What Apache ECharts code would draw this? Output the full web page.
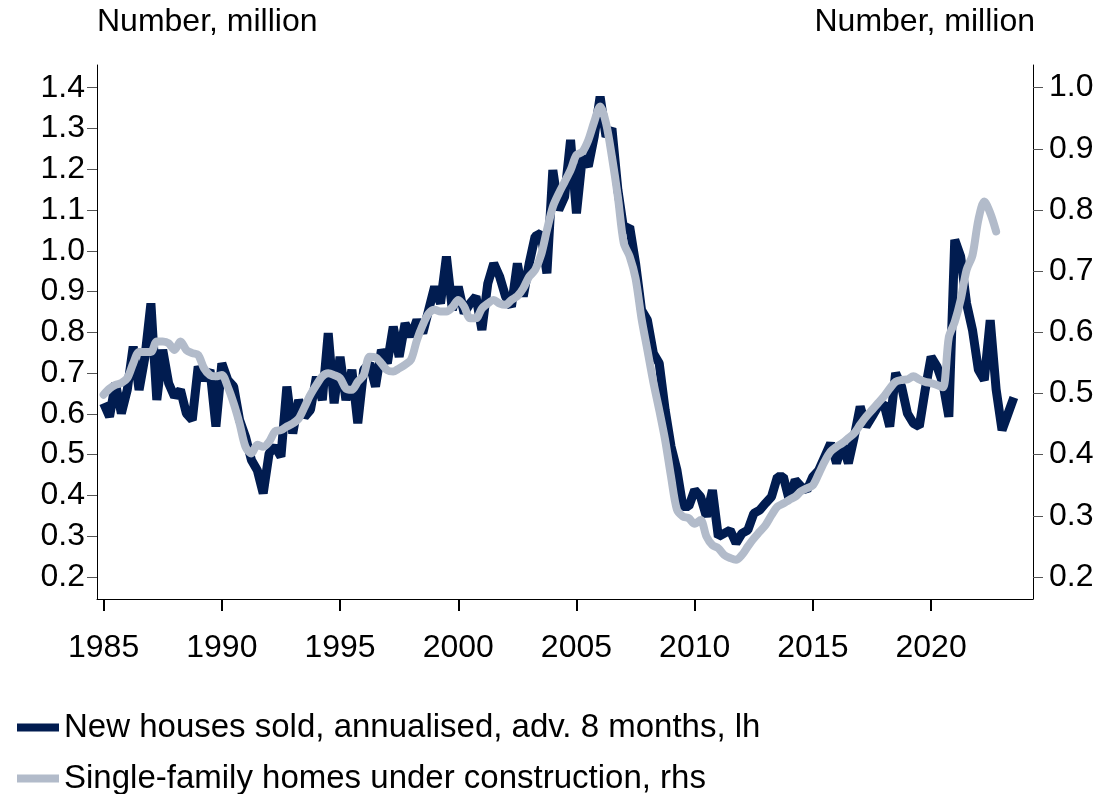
<!DOCTYPE html>
<html>
<head>
<meta charset="utf-8">
<script src="https://cdn.jsdelivr.net/npm/echarts@6/dist/echarts.min.js"></script>
<style>
  html, body { margin: 0; padding: 0; background: #ffffff; }
  #chart { width: 1119px; height: 794px; }
</style>
</head>
<body>
<div id="chart"></div>
<script>
// quarterly readings, first point = 1985 Q1
const salesStart = 1985
const constructionStart = 1985
const step = 0.25

// new houses sold, annualised, adv. 8 months (left axis, million)
const salesValues = [
  0.626, 0.593, 0.675, 0.601, 0.659, 0.765, 0.659, 0.740, 0.871, 0.634, 0.757, 0.675,
  0.642, 0.659, 0.601, 0.585, 0.716, 0.683, 0.708, 0.569, 0.724, 0.683, 0.667, 0.585,
  0.544, 0.487, 0.462, 0.405, 0.503, 0.520, 0.495, 0.667, 0.552, 0.634, 0.593, 0.610,
  0.691, 0.634, 0.798, 0.626, 0.740, 0.634, 0.708, 0.577,
  0.708, 0.724, 0.667, 0.757, 0.724, 0.814, 0.740, 0.822, 0.790, 0.830, 0.798, 0.855,
  0.912, 0.871, 0.986, 0.855, 0.912, 0.847, 0.871, 0.888, 0.806, 0.920, 0.969, 0.937,
  0.888, 0.863, 0.969, 0.888, 0.969, 1.035, 1.043, 0.945, 1.198, 1.100, 1.133, 1.272,
  1.092, 1.231, 1.207, 1.280, 1.378, 1.280, 1.300, 1.150,
  1.051, 1.059, 0.969, 0.855, 0.830, 0.749, 0.724, 0.610, 0.520, 0.462, 0.373, 0.373,
  0.413, 0.397, 0.348, 0.413, 0.299, 0.307, 0.315, 0.283, 0.307, 0.315, 0.356, 0.364,
  0.381, 0.397, 0.446, 0.446, 0.389, 0.438, 0.422, 0.413, 0.446, 0.462, 0.495, 0.528,
  0.479, 0.528, 0.479, 0.544, 0.618, 0.569, 0.593, 0.618,
  0.626, 0.569, 0.700, 0.667, 0.601, 0.577, 0.569, 0.659, 0.740, 0.716, 0.675, 0.593,
  1.027, 0.986, 0.871, 0.806, 0.708, 0.683, 0.830, 0.660, 0.560, 0.600, 0.640,
]

// single-family homes under construction (right axis, million)
const constructionValues = [
  0.498, 0.508, 0.514, 0.517, 0.525, 0.549, 0.568, 0.568, 0.568, 0.585, 0.585, 0.582,
  0.571, 0.585, 0.571, 0.566, 0.563, 0.541, 0.530, 0.528, 0.530, 0.511, 0.484, 0.451,
  0.413, 0.402, 0.416, 0.413, 0.421, 0.438, 0.440, 0.446, 0.451, 0.459, 0.478, 0.498,
  0.514, 0.528, 0.533, 0.530, 0.525, 0.508, 0.506, 0.519,
  0.530, 0.560, 0.559, 0.549, 0.538, 0.536, 0.541, 0.547, 0.555, 0.587, 0.612, 0.631,
  0.637, 0.634, 0.634, 0.641, 0.653, 0.642, 0.623, 0.623, 0.639, 0.647, 0.653, 0.647,
  0.645, 0.653, 0.659, 0.672, 0.691, 0.702, 0.726, 0.767, 0.805, 0.827, 0.846, 0.865,
  0.890, 0.895, 0.914, 0.944, 0.969, 0.942, 0.887, 0.822,
  0.746, 0.724, 0.688, 0.623, 0.571, 0.519, 0.473, 0.424, 0.364, 0.310, 0.299, 0.296,
  0.287, 0.293, 0.266, 0.252, 0.247, 0.236, 0.231, 0.228, 0.236, 0.250, 0.263, 0.274,
  0.285, 0.301, 0.315, 0.320, 0.326, 0.331, 0.340, 0.345, 0.350, 0.369, 0.389, 0.405,
  0.413, 0.419, 0.427, 0.435, 0.449, 0.462, 0.473, 0.484,
  0.495, 0.508, 0.519, 0.522, 0.523, 0.528, 0.523, 0.519, 0.517, 0.514, 0.510, 0.592,
  0.617, 0.653, 0.702, 0.726, 0.784, 0.814, 0.795, 0.765,
]

const leftTicks = [0.2, 0.3, 0.4, 0.5, 0.6, 0.7, 0.8, 0.9, 1.0, 1.1, 1.2, 1.3, 1.4]
const rightTicks = [0.2, 0.3, 0.4, 0.5, 0.6, 0.7, 0.8, 0.9, 1.0]
const yearTicks = [1985, 1990, 1995, 2000, 2005, 2010, 2015, 2020]

const seriesNames = [
  'New houses sold, annualised, adv. 8 months, lh',
  'Single-family homes under construction, rhs',
]

const NAVY = '#011c50'
const GREY = '#b2bbca'
const FONT = '"Liberation Sans", Arial, sans-serif'
const FONT_SIZE = 32

const salesData = salesValues.map((v, i) => [salesStart + i * step, v])
const constructionData = constructionValues.map((v, i) => [constructionStart + i * step, v])

const axisLineStyle = { color: '#000000', width: 1 }
const labelStyle = { color: '#000000', fontFamily: FONT, fontSize: FONT_SIZE }

const legendBase = {
  orient: 'vertical',
  left: 12,
  itemWidth: 42,
  itemHeight: 8,
  icon: 'rect',
  textStyle: { color: '#000', fontFamily: FONT, fontSize: 33 },
}

const chart = echarts.init(document.getElementById('chart'), null, { renderer: 'canvas' })

chart.setOption({
  backgroundColor: '#ffffff',
  animation: false,
  grid: {
    left: 97,
    right: 86,
    top: 65,
    bottom: 195,
  },
  graphic: [
    {
      type: 'text',
      left: 97,
      top: 6,
      style: { text: 'Number, million', fill: '#000', font: FONT_SIZE + 'px ' + FONT },
    },
    {
      type: 'text',
      right: 84,
      top: 6,
      style: { text: 'Number, million', fill: '#000', font: FONT_SIZE + 'px ' + FONT },
    },
  ],
  legend: [
    { ...legendBase, top: 706, data: [seriesNames[0]] },
    { ...legendBase, top: 757, data: [seriesNames[1]] },
  ],
  xAxis: {
    type: 'value',
    min: 1984.72,
    max: 2024.31,
    splitLine: { show: false },
    axisLine: { show: true, lineStyle: axisLineStyle },
    axisTick: {
      show: true,
      length: 12,
      customValues: yearTicks,
      lineStyle: { color: '#000', width: 2 },
    },
    axisLabel: {
      customValues: yearTicks,
      margin: 33,
      ...labelStyle,
      formatter: (v) => String(v),
    },
  },
  yAxis: [
    {
      type: 'value',
      position: 'left',
      min: 0.146,
      max: 1.4557,
      splitLine: { show: false },
      axisLine: { show: true, lineStyle: axisLineStyle },
      axisTick: {
        show: true,
        length: 10,
        customValues: leftTicks,
        lineStyle: { color: '#555' },
      },
      axisLabel: {
        customValues: leftTicks,
        margin: 12,
        ...labelStyle,
        formatter: (v) => v.toFixed(1),
      },
    },
    {
      type: 'value',
      position: 'right',
      min: 0.164,
      max: 1.037,
      splitLine: { show: false },
      axisLine: { show: true, lineStyle: axisLineStyle },
      axisTick: {
        show: true,
        length: 10,
        customValues: rightTicks,
        lineStyle: { color: '#555' },
      },
      axisLabel: {
        customValues: rightTicks,
        margin: 16,
        ...labelStyle,
        formatter: (v) => v.toFixed(1),
      },
    },
  ],
  series: [
    {
      name: seriesNames[0],
      type: 'line',
      yAxisIndex: 0,
      data: salesData,
      showSymbol: false,
      lineStyle: { color: NAVY, width: 9, join: 'bevel' },
      itemStyle: { color: NAVY },
      z: 2,
    },
    {
      name: seriesNames[1],
      type: 'line',
      yAxisIndex: 1,
      data: constructionData,
      showSymbol: false,
      smooth: 0.3,
      lineStyle: { color: GREY, width: 8, cap: 'round', join: 'round' },
      itemStyle: { color: GREY },
      z: 3,
    },
  ],
})
</script>
</body>
</html>
